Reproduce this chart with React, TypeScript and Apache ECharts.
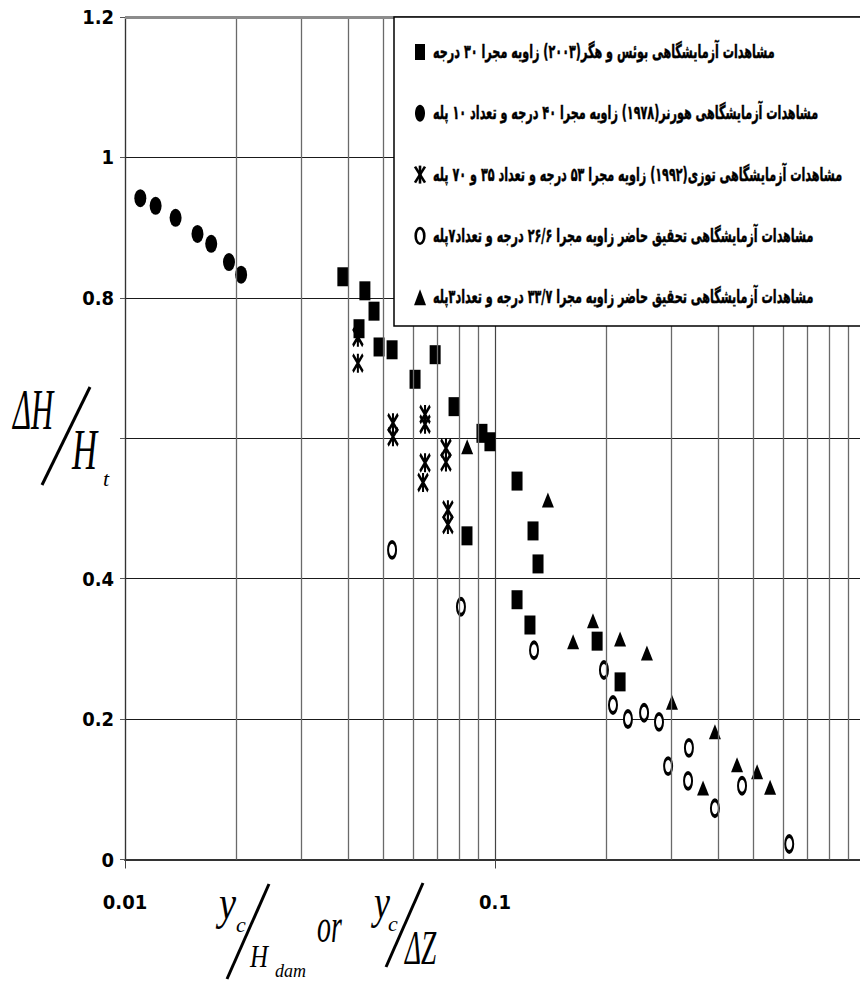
import React, { useEffect, useRef } from "react";
import * as echarts from "echarts";

// ---------- data ----------
const boesHager: number[][] = [
  [0.0388, 0.83], [0.0445, 0.81], [0.0471, 0.781], [0.0429, 0.756], [0.0486, 0.73],
  [0.0527, 0.726], [0.0689, 0.719], [0.0608, 0.684], [0.0775, 0.645], [0.0922, 0.607],
  [0.0969, 0.595], [0.1147, 0.539], [0.1267, 0.468], [0.084, 0.461], [0.1307, 0.421],
  [0.1147, 0.37], [0.1243, 0.334], [0.1888, 0.311], [0.2178, 0.253],
];
const horner: number[][] = [
  [0.011, 0.942], [0.0121, 0.931], [0.0137, 0.914], [0.0157, 0.891], [0.0171, 0.877],
  [0.0191, 0.851], [0.0206, 0.833],
];
const tozzi: number[][] = [
  [0.0426, 0.744], [0.0426, 0.707], [0.053, 0.622], [0.053, 0.602], [0.0647, 0.634],
  [0.0647, 0.62], [0.0647, 0.565], [0.0639, 0.537], [0.0737, 0.586], [0.0737, 0.566],
  [0.0746, 0.498], [0.0746, 0.477],
];
const present266: number[][] = [
  [0.0527, 0.441], [0.0809, 0.36], [0.1275, 0.298], [0.197, 0.27], [0.2084, 0.22],
  [0.2287, 0.2], [0.2529, 0.209], [0.2775, 0.196], [0.2937, 0.133], [0.3343, 0.159],
  [0.3325, 0.112], [0.393, 0.073], [0.4652, 0.105], [0.624, 0.022],
];
const present337: number[][] = [
  [0.0841, 0.588], [0.139, 0.512], [0.1626, 0.31], [0.184, 0.34], [0.2178, 0.314],
  [0.2574, 0.294], [0.3008, 0.224], [0.393, 0.182], [0.451, 0.135], [0.511, 0.125],
  [0.554, 0.103], [0.365, 0.102],
];
const minorGridX: number[] = [
  0.02, 0.03, 0.04, 0.05, 0.06, 0.07, 0.08, 0.09,
  0.2, 0.3, 0.4, 0.5, 0.6, 0.7, 0.8, 0.9,
];
const seriesNames: string[] = [
  "مشاهدات آزمایشگاهی بوئس و هگر(۲۰۰۳) زاویه مجرا ۳۰ درجه",
  "مشاهدات آزمایشگاهی هورنر(۱۹۷۸) زاویه مجرا ۴۰ درجه و تعداد ۱۰ پله",
  "مشاهدات آزمایشگاهی توزی(۱۹۹۲) زاویه مجرا ۵۳ درجه و تعداد ۳۵ و ۷۰ پله",
  "مشاهدات آزمایشگاهی تحقیق حاضر زاویه مجرا ۲۶/۶ درجه و تعداد۷پله",
  "مشاهدات آزمایشگاهی تحقیق حاضر زاویه مجرا ۳۳/۷ درجه و تعداد۳پله",
];
const xMin = 0.01;
const xMax = 1;
const yMin = 0;
const yMax = 1.2;
const yStep = 0.2;
// y tick hidden behind the ΔH/Ht title in the original
const yHiddenTick = 0.6;

const ELLIPSE = "path://M0,-10A6,10 0 1,1 0,10A6,10 0 1,1 0,-10Z";
const ASTER = "path://M5,0L5,20M0,1L10,19M10,1L0,19";

const serif = "'Liberation Serif', 'DejaVu Serif', serif";
const tickFont = "'Liberation Sans Narrow', 'DejaVu Sans Condensed', 'Liberation Sans', Arial, sans-serif";
const legendFont = "'DejaVu Sans', sans-serif";

function mathText(text: string, x: number, y: number, size: number, sx: number) {
  return {
    type: "text",
    x,
    y,
    scaleX: sx,
    silent: true,
    z: 20,
    style: {
      text,
      fontFamily: serif,
      fontStyle: "italic",
      fontSize: size,
      fill: "#000",
      textAlign: "left",
      textVerticalAlign: "bottom",
    },
  };
}
function slash(x1: number, y1: number, x2: number, y2: number) {
  return {
    type: "line",
    silent: true,
    z: 20,
    shape: { x1, y1, x2, y2 },
    style: { stroke: "#000", lineWidth: 3 },
  };
}

// legend layout
const LG_X = 394;
const LG_Y = 17;
const LG_H = 309;
const LG_ROW0 = 52;
const LG_ROW_STEP = 61.3;
const LG_SYM_X = 420;
const LG_TEXT_X = 433;

function legendSymbol(i: number, cy: number): any {
  const cx = LG_SYM_X;
  if (i === 0)
    return { type: "rect", z: 31, silent: true, shape: { x: cx - 5, y: cy - 8, width: 10, height: 16 }, style: { fill: "#000" } };
  if (i === 1)
    return { type: "ellipse", z: 31, silent: true, shape: { cx, cy, rx: 5, ry: 8.5 }, style: { fill: "#000" } };
  if (i === 2)
    return {
      type: "group",
      z: 31,
      silent: true,
      children: [
        { type: "line", z: 31, shape: { x1: cx, y1: cy - 9, x2: cx, y2: cy + 9 }, style: { stroke: "#000", lineWidth: 2.6 } },
        { type: "line", z: 31, shape: { x1: cx - 5, y1: cy - 8, x2: cx + 5, y2: cy + 8 }, style: { stroke: "#000", lineWidth: 2.6 } },
        { type: "line", z: 31, shape: { x1: cx + 5, y1: cy - 8, x2: cx - 5, y2: cy + 8 }, style: { stroke: "#000", lineWidth: 2.6 } },
      ],
    };
  if (i === 3)
    return { type: "ellipse", z: 31, silent: true, shape: { cx, cy, rx: 4.3, ry: 7.8 }, style: { fill: "#fff", stroke: "#000", lineWidth: 2.6 } };
  return {
    type: "polygon",
    z: 31,
    silent: true,
    shape: { points: [[cx - 6, cy + 8], [cx + 6, cy + 8], [cx, cy - 8]] },
    style: { fill: "#000" },
  };
}

function legendGraphics(): any[] {
  const out: any[] = [
    {
      type: "rect",
      z: 30,
      silent: true,
      shape: { x: LG_X, y: LG_Y, width: 520, height: LG_H },
      style: { fill: "#fff", stroke: "#000", lineWidth: 1.5 },
    },
  ];
  seriesNames.forEach((name, i) => {
    const cy = LG_ROW0 + i * LG_ROW_STEP;
    out.push(legendSymbol(i, cy));
    out.push({
      type: "text",
      z: 31,
      silent: true,
      x: LG_TEXT_X,
      y: cy,
      scaleX: 0.59,
      style: {
        text: name,
        fontFamily: legendFont,
        fontWeight: "bold",
        fontSize: 19,
        fill: "#000",
        stroke: "#000",
        lineWidth: 0.5,
        textAlign: "left",
        textVerticalAlign: "middle",
      },
    });
  });
  return out;
}

export default function App() {
  const ref = useRef<HTMLDivElement>(null);
  useEffect(() => {
    document.body.style.margin = "0";
    if (!ref.current) return;
    const chart = echarts.init(ref.current, null, { renderer: "svg" });
    const scatterBase = { type: "scatter", z: 3 };
    const option: any = {
      animation: false,
      backgroundColor: "#fff",
      grid: { left: 125, top: 17, width: 740, height: 842.5, containLabel: false, outerBoundsMode: "none" },
      legend: { show: false, data: seriesNames },
      xAxis: {
        type: "log",
        logBase: 10,
        min: xMin,
        max: xMax,
        axisLine: { show: true, lineStyle: { color: "#333", width: 2 } },
        axisTick: { show: true, length: 9, lineStyle: { color: "#444", width: 1 } },
        axisLabel: {
          margin: 32,
          fontFamily: tickFont,
          fontWeight: "bold",
          fontSize: 20,
          color: "#000",
        },
        splitLine: { show: true, lineStyle: { color: "#444", width: 1.2 } },
      },
      yAxis: {
        type: "value",
        min: yMin,
        max: yMax,
        interval: yStep,
        axisLine: { show: true, lineStyle: { color: "#333", width: 1.2 } },
        axisTick: { show: true, length: 5, lineStyle: { color: "#555" } },
        axisLabel: {
          margin: 11,
          fontFamily: tickFont,
          fontWeight: "bold",
          fontSize: 20,
          color: "#000",
          formatter: (v: number) => (Math.abs(v - yHiddenTick) < 1e-9 ? "" : String(Math.round(v * 10) / 10)),
        },
        splitLine: {
          show: true,
          lineStyle: {
            color: ["#1a1a1a", "#1a1a1a", "#1a1a1a", "#1a1a1a", "#1a1a1a", "#1a1a1a", "#8c8c8c"],
            width: 1.2,
          },
        },
      },
      series: [
        {
          type: "scatter",
          name: "grid",
          data: [],
          z: 1,
          silent: true,
          markLine: {
            silent: true,
            symbol: ["none", "none"],
            label: { show: false },
            lineStyle: { type: "solid", color: "#6a6a6a", width: 1.3 },
            data: [
              ...minorGridX.map((v) => ({ xAxis: v })),
              { yAxis: yMax, lineStyle: { color: "#8c8c8c", width: 3, type: "solid" } },
            ],
          },
        },
        {
          ...scatterBase,
          name: seriesNames[0],
          data: boesHager,
          symbol: "rect",
          symbolSize: [11, 19],
          itemStyle: { color: "#000", opacity: 1 },
        },
        {
          ...scatterBase,
          name: seriesNames[1],
          data: horner,
          symbol: ELLIPSE,
          symbolSize: [12, 18],
          itemStyle: { color: "#000", opacity: 1 },
        },
        {
          ...scatterBase,
          name: seriesNames[2],
          data: tozzi,
          symbol: ASTER,
          symbolSize: [10, 19],
          itemStyle: { color: "none", borderColor: "#000", borderWidth: 2.8, opacity: 1 },
        },
        {
          ...scatterBase,
          name: seriesNames[3],
          data: present266,
          symbol: ELLIPSE,
          symbolSize: [8, 16],
          itemStyle: { color: "#fff", borderColor: "#000", borderWidth: 2.8, opacity: 1 },
        },
        {
          ...scatterBase,
          name: seriesNames[4],
          data: present337,
          symbol: "triangle",
          symbolSize: [12, 15],
          itemStyle: { color: "#000", opacity: 1 },
        },
      ],
      graphic: [
        ...legendGraphics(),
        // y-axis title  ΔH / H_t
        mathText("ΔH", 13, 438, 56, 0.55),
        mathText("H", 72, 478, 56, 0.62),
        mathText("t", 103, 489, 22, 1),
        slash(90, 387, 42, 485),
        // x-axis title  y_c / H_dam  or  y_c / ΔZ
        mathText("y", 219, 926, 48, 0.8),
        mathText("c", 236, 935, 22, 1),
        slash(269, 884, 227, 979),
        mathText("H", 250, 972, 32, 0.78),
        mathText("dam", 275, 980, 18, 1),
        mathText("or", 317, 949, 48, 0.58),
        mathText("y", 374, 926, 48, 0.75),
        mathText("c", 388, 934, 22, 1),
        slash(423, 883, 386, 967),
        mathText("ΔZ", 405, 971, 48, 0.57),
      ],
    };
    chart.setOption(option);
    return () => chart.dispose();
  }, []);
  return <div ref={ref} style={{ width: 860, height: 982 }} />;
}
